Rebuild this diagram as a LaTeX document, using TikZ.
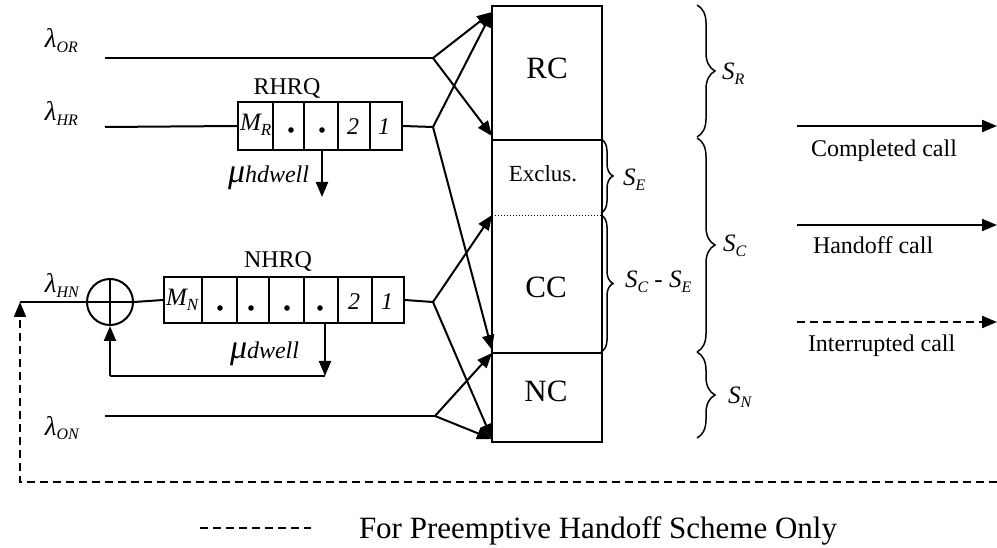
\documentclass[tikz,border=0pt]{standalone}
\usepackage{fontspec}
\setmainfont{Liberation Serif}
\usetikzlibrary{arrows.meta,decorations.pathreplacing,calc}

% lowered, smaller italic subscript in text mode
\newcommand{\subtxt}[2][16]{\raisebox{-4.5pt}{\fontsize{#1}{#1}\selectfont\itshape #2}}

\begin{document}
\begin{tikzpicture}[x=1pt,y=-1pt,line width=2pt,
  fs/.style={font=\fontsize{#1}{#1}\selectfont},
  lab/.style={inner sep=0pt,anchor=base west},
  ctr/.style={inner sep=0pt,anchor=base},
  cell/.style={draw,line width=1.8pt,inner sep=0pt,anchor=west,minimum height=#1},
  tip/.style={-{Triangle[length=15pt,width=12pt]}},
  fb/.style={dash pattern=on 8pt off 5pt},
  brc/.style={decorate,decoration={brace,amplitude=#1},line width=1.5pt},
  region/.style={inner sep=0pt,minimum width=108pt}]
\useasboundingbox (0,0) rectangle (997,548);

% ---------- channel groups ----------
\node[region,minimum height=132pt] (RC) at (547,73) {};
\node[region,minimum height=76pt]  (EX) at (547,177) {};
\node[region,minimum height=137pt] (CC) at (547,283.5) {};
\node[region,minimum height=89pt]  (NC) at (547,396.5) {};
\draw (RC.north west) rectangle (NC.south east);
\draw (RC.south west) -- (RC.south east);
\draw[line width=1pt,dotted] (EX.south west) -- (EX.south east);
\draw (CC.south west) -- (CC.south east);
\node[ctr,fs=31] (tRC) at (547,79) {RC};
\node[ctr,fs=23] (tEX) at (543,182) {Exclus.};
\node[ctr,fs=31] (tCC) at (546,298) {CC};
\node[ctr,fs=31] (tNC) at (546,401) {NC};

% ---------- arrival labels ----------
\node[lab,fs=27] (lOR) at (44,48)  {\itshape λ\subtxt{OR}};
\node[lab,fs=27] (lHR) at (44,121) {\itshape λ\subtxt{HR}};
\node[lab,fs=27] (lHN) at (44,293) {\itshape λ\subtxt{HN}};
\node[lab,fs=27] (lON) at (44,435) {\itshape λ\subtxt{ON}};

% ---------- RHRQ queue ----------
\node[ctr,fs=24] (tRH) at (287,95) {RHRQ};
\node[cell=48pt,minimum width=35pt] (r1) at (237,126) {};
\node[cell=48pt,minimum width=31pt] (r2) at (272,126) {};
\node[cell=48pt,minimum width=34pt] (r3) at (303,126) {};
\node[cell=48pt,minimum width=32pt] (r4) at (337,126) {};
\node[cell=48pt,minimum width=32pt] (r5) at (369,126) {};
\node[lab,fs=25] (tMR) at (239,131) {\itshape M\subtxt[17]{R}};
\fill (291,130) circle (2.8pt) (322,130) circle (2.8pt);
\node[ctr,fs=24] (tr2) at (353,135) {\itshape 2};
\node[ctr,fs=24] (tr1) at (384,135) {\itshape 1};
\coordinate (rdep) at (322,150);
\coordinate (rdepE) at (322,197);
\draw[tip] (rdep) -- (rdepE);
\node[lab] (mh) at (227,183) {\fontsize{34}{34}\selectfont\itshape μ\fontsize{24}{24}\selectfont hdwell};

% ---------- NHRQ queue ----------
\node[ctr,fs=24] (tNH) at (278,268) {NHRQ};
\node[cell=46pt,minimum width=38pt] (n1) at (163,300) {};
\node[cell=46pt,minimum width=35pt] (n2) at (201,300) {};
\node[cell=46pt,minimum width=32pt] (n3) at (236,300) {};
\node[cell=46pt,minimum width=35pt] (n4) at (268,300) {};
\node[cell=46pt,minimum width=34pt] (n5) at (303,300) {};
\node[cell=46pt,minimum width=34pt] (n6) at (337,300) {};
\node[cell=46pt,minimum width=32pt] (n7) at (371,300) {};
\node[lab,fs=25] (tMN) at (165,306) {\itshape M\subtxt[17]{N}};
\fill (220,308) circle (2.8pt) (251,308) circle (2.8pt)
      (287,308) circle (2.8pt) (320,308) circle (2.8pt);
\node[ctr,fs=24] (tn2) at (354,310) {\itshape 2};
\node[ctr,fs=24] (tn1) at (387,310) {\itshape 1};
\node[lab] (md) at (229,359) {\fontsize{34}{34}\selectfont\itshape μ\fontsize{24}{24}\selectfont dwell};

% ---------- summing junction and dwell loop ----------
\node[draw,circle,minimum size=46pt,inner sep=0pt] (sum) at (110,302) {};
\draw (sum.north) -- (sum.south) (sum.west) -- (sum.east);
\coordinate (fbtop) at (20,302);
\coordinate (fbcorner) at (20,482);
\coordinate (fbend) at (997,482);
\draw (fbtop) -- (sum.west);
\draw (sum.east) -- (n1.west);
\coordinate (ndep) at (325,323);
\coordinate (nloopR) at (325,376);
\coordinate (nloopL) at (110,376);
\draw[tip] (ndep) -- (nloopR);
\draw (nloopR) -- (nloopL);
\draw[tip] (nloopL) -- (sum.south);
\draw[fb,tip] (fbend) -- (fbcorner) -- (fbtop);

% ---------- input lines and branch points ----------
\coordinate (sOR) at (105,58);  \coordinate (bOR) at (433,58);
\coordinate (sHR) at (105,127); \coordinate (bHR) at (433,127);
\coordinate (bNH) at (433,302);
\coordinate (sON) at (105,416); \coordinate (bON) at (435,416);
\draw (sOR) -- (bOR);
\draw (sHR) -- (r1.west);
\draw (r5.east) -- (bHR);
\draw (n7.east) -- (bNH);
\draw (sON) -- (bON);

\coordinate (aRCt) at (492,12);
\coordinate (aRCb) at (492,136);
\coordinate (aCCt) at (492,215);
\coordinate (aCCb) at (492,350);
\coordinate (aNCt) at (492,353);
\coordinate (aNCb) at (492,439);
\draw[tip] (bOR) -- (aRCt);
\draw[tip] (bOR) -- (aRCb);
\draw[tip] (bHR) -- (aRCt);
\draw[tip] (bHR) -- (aCCb);
\draw[tip] (bNH) -- (aCCt);
\draw[tip] (bNH) -- (aNCb);
\draw[tip] (bON) -- (aNCt);
\draw[tip] (bON) -- (aNCb);

% ---------- capacity braces ----------
\draw[brc=12pt] (601,139) -- (601,213);
\draw[brc=12pt] (601,215) -- (601,352);
\draw[brc=18pt] (697,5) -- (697,137);
\draw[brc=18pt] (697,138) -- (697,352);
\draw[brc=18pt] (697,352) -- (697,438);
\node[lab,fs=25] (sE)  at (622,186) {\itshape S\subtxt{E}};
\node[lab,fs=25] (sCE) at (624,288) {{\itshape S\subtxt{C}} - {\itshape S\subtxt{E}}};
\node[lab,fs=25] (sR)  at (721,80)  {\itshape S\subtxt{R}};
\node[lab,fs=25] (sC)  at (722,252) {\itshape S\subtxt{C}};
\node[lab,fs=25] (sN)  at (727,403) {\itshape S\subtxt{N}};

% ---------- departures ----------
\coordinate (o1s) at (797,126); \coordinate (o1e) at (997,126);
\coordinate (o2s) at (797,225); \coordinate (o2e) at (997,225);
\coordinate (o3s) at (797,322); \coordinate (o3e) at (997,322);
\draw[tip] (o1s) -- (o1e);
\draw[tip] (o2s) -- (o2e);
\draw[fb,tip] (o3s) -- (o3e);
\node[lab,fs=24] (tc1) at (810,157) {Completed call};
\node[lab,fs=24] (tc2) at (812,254) {Handoff call};
\node[lab,fs=24] (tc3) at (807,352) {Interrupted call};

% ---------- legend ----------
\coordinate (lg1) at (200,528); \coordinate (lg2) at (311,528);
\draw[fb,line width=1.3pt] (lg1) -- (lg2);
\node[lab,fs=31] (tlg) at (358,538) {For Preemptive Handoff Scheme Only};
\end{tikzpicture}
\end{document}
